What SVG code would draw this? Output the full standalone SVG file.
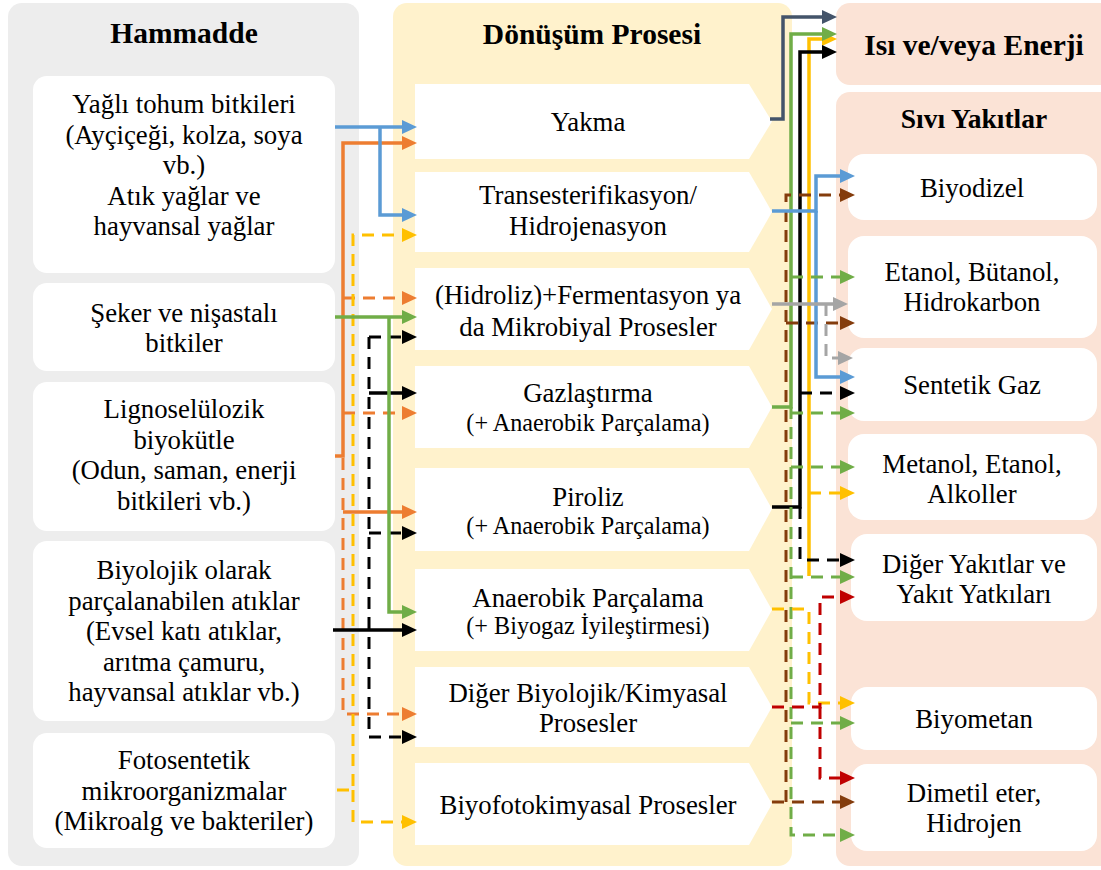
<svg xmlns="http://www.w3.org/2000/svg" width="1101" height="870" viewBox="0 0 1101 870">
<style>
.pl{fill:#EDEDED}.pm{fill:#FFF2CC}.pr{fill:#FBE3D6}.box{fill:#FFFFFF}
text{font-family:"Liberation Serif","Times New Roman",serif;font-size:26.8px;text-anchor:middle;fill:#000}
.s{font-size:24.2px}.h{font-weight:bold;font-size:29.5px}.h2{font-weight:bold;font-size:27.5px}
path.c{fill:none;stroke-width:3.5}
path.d{fill:none;stroke-width:3;stroke-dasharray:12 8}
.blue{stroke:#5B9BD5}.org{stroke:#ED7D31}.yel{stroke:#FFC000}.grn{stroke:#70AD47}.blk{stroke:#000}
.nav{stroke:#44546A}.gry{stroke:#A5A5A5}.brn{stroke:#843C0C}.red{stroke:#C00000}
</style>
<defs>
<marker id="ablue" markerUnits="userSpaceOnUse" markerWidth="16" markerHeight="14" refX="3" refY="7" orient="auto"><path d="M0,0L15,7L0,14z" fill="#5B9BD5"/></marker>
<marker id="aorg" markerUnits="userSpaceOnUse" markerWidth="16" markerHeight="14" refX="3" refY="7" orient="auto"><path d="M0,0L15,7L0,14z" fill="#ED7D31"/></marker>
<marker id="ayel" markerUnits="userSpaceOnUse" markerWidth="16" markerHeight="14" refX="3" refY="7" orient="auto"><path d="M0,0L15,7L0,14z" fill="#FFC000"/></marker>
<marker id="agrn" markerUnits="userSpaceOnUse" markerWidth="16" markerHeight="14" refX="3" refY="7" orient="auto"><path d="M0,0L15,7L0,14z" fill="#70AD47"/></marker>
<marker id="ablk" markerUnits="userSpaceOnUse" markerWidth="16" markerHeight="14" refX="3" refY="7" orient="auto"><path d="M0,0L15,7L0,14z" fill="#000000"/></marker>
<marker id="anav" markerUnits="userSpaceOnUse" markerWidth="16" markerHeight="14" refX="3" refY="7" orient="auto"><path d="M0,0L15,7L0,14z" fill="#44546A"/></marker>
<marker id="agry" markerUnits="userSpaceOnUse" markerWidth="16" markerHeight="14" refX="3" refY="7" orient="auto"><path d="M0,0L15,7L0,14z" fill="#A5A5A5"/></marker>
<marker id="abrn" markerUnits="userSpaceOnUse" markerWidth="16" markerHeight="14" refX="3" refY="7" orient="auto"><path d="M0,0L15,7L0,14z" fill="#843C0C"/></marker>
<marker id="ared" markerUnits="userSpaceOnUse" markerWidth="16" markerHeight="14" refX="3" refY="7" orient="auto"><path d="M0,0L15,7L0,14z" fill="#C00000"/></marker>
</defs>

<g id="panel-hammadde">
<rect class="pl" x="8" y="3" width="351" height="863" rx="14"/>
<text class="h" x="184" y="43">Hammadde</text>
</g>
<g id="panel-donusum">
<rect class="pm" x="393" y="3" width="399" height="863" rx="14"/>
<text class="h" x="592" y="44">Dönüşüm Prosesi</text>
</g>
<g id="panel-enerji">
<rect class="pr" x="836" y="3" width="285" height="82" rx="14"/>
<text class="h" x="974" y="55">Isı ve/veya Enerji</text>
</g>
<g id="panel-sivi">
<rect class="pr" x="836" y="92" width="285" height="774" rx="14"/>
<text class="h2" x="974" y="128">Sıvı Yakıtlar</text>
</g>

<g id="n-yagli">
<rect class="box" x="33" y="76" width="302" height="197" rx="14"/>
<text x="184" y="113">Yağlı tohum bitkileri</text>
<text x="184" y="144">(Ayçiçeği, kolza, soya</text>
<text x="184" y="174">vb.)</text>
<text x="184" y="205">Atık yağlar ve</text>
<text x="184" y="235">hayvansal yağlar</text>
</g>
<g id="n-seker">
<rect class="box" x="33" y="283" width="302" height="88" rx="14"/>
<text x="184" y="322">Şeker ve nişastalı</text>
<text x="184" y="352">bitkiler</text>
</g>
<g id="n-ligno">
<rect class="box" x="33" y="382" width="302" height="149" rx="14"/>
<text x="184" y="418">Lignoselülozik</text>
<text x="184" y="449">biyokütle</text>
<text x="184" y="479">(Odun, saman, enerji</text>
<text x="184" y="510">bitkileri vb.)</text>
</g>
<g id="n-biyolojik">
<rect class="box" x="33" y="541" width="302" height="180" rx="14"/>
<text x="184" y="579">Biyolojik olarak</text>
<text x="184" y="610">parçalanabilen atıklar</text>
<text x="184" y="640">(Evsel katı atıklar,</text>
<text x="184" y="671">arıtma çamuru,</text>
<text x="184" y="701">hayvansal atıklar vb.)</text>
</g>
<g id="n-foto">
<rect class="box" x="33" y="733" width="302" height="115" rx="14"/>
<text x="184" y="769">Fotosentetik</text>
<text x="184" y="800">mikroorganizmalar</text>
<text x="184" y="830">(Mikroalg ve bakteriler)</text>
</g>

<g id="p-yakma">
<path class="box" d="M415,84H749L772,121.5L749,159H415Z"/>
<text x="588" y="131">Yakma</text>
</g>
<g id="p-trans">
<path class="box" d="M415,172H749L772,212L749,252H415Z"/>
<text x="588" y="204">Transesterifikasyon/</text>
<text x="588" y="235">Hidrojenasyon</text>
</g>
<g id="p-hidroliz">
<path class="box" d="M415,268H749L772,309L749,350H415Z"/>
<text x="588" y="304">(Hidroliz)+Fermentasyon ya</text>
<text x="588" y="336">da Mikrobiyal Prosesler</text>
</g>
<g id="p-gaz">
<path class="box" d="M415,366H749L772,407L749,448H415Z"/>
<text x="588" y="402">Gazlaştırma</text>
<text class="s" x="588" y="431">(+ Anaerobik Parçalama)</text>
</g>
<g id="p-piroliz">
<path class="box" d="M415,468H749L772,509L749,551H415Z"/>
<text x="588" y="506">Piroliz</text>
<text class="s" x="588" y="534">(+ Anaerobik Parçalama)</text>
</g>
<g id="p-anaerobik">
<path class="box" d="M415,569H749L772,610L749,651H415Z"/>
<text x="588" y="607">Anaerobik Parçalama</text>
<text class="s" x="588" y="634">(+ Biyogaz İyileştirmesi)</text>
</g>
<g id="p-diger">
<path class="box" d="M415,667H749L772,707L749,747H415Z"/>
<text x="588" y="702">Diğer Biyolojik/Kimyasal</text>
<text x="588" y="732">Prosesler</text>
</g>
<g id="p-biyofoto">
<path class="box" d="M415,763H749L772,804L749,845H415Z"/>
<text x="588" y="814">Biyofotokimyasal Prosesler</text>
</g>

<g id="r-biyodizel">
<rect class="box" x="848" y="154" width="249" height="66" rx="16"/>
<text x="972" y="197">Biyodizel</text>
</g>
<g id="r-etanol">
<rect class="box" x="848" y="236" width="249" height="102" rx="16"/>
<text x="972" y="281">Etanol, Bütanol,</text>
<text x="972" y="311">Hidrokarbon</text>
</g>
<g id="r-sentetik">
<rect class="box" x="848" y="348" width="249" height="73" rx="16"/>
<text x="972" y="394">Sentetik Gaz</text>
</g>
<g id="r-metanol">
<rect class="box" x="848" y="434" width="249" height="86" rx="16"/>
<text x="972" y="473">Metanol, Etanol,</text>
<text x="972" y="503">Alkoller</text>
</g>
<g id="r-diger">
<rect class="box" x="851" y="534" width="246" height="87" rx="16"/>
<text x="974" y="573">Diğer Yakıtlar ve</text>
<text x="974" y="603">Yakıt Yatkıları</text>
</g>
<g id="r-biyometan">
<rect class="box" x="851" y="687" width="246" height="63" rx="16"/>
<text x="974" y="728">Biyometan</text>
</g>
<g id="r-dimetil">
<rect class="box" x="851" y="764" width="246" height="87" rx="16"/>
<text x="974" y="802">Dimetil eter,</text>
<text x="974" y="832">Hidrojen</text>
</g>

<g id="connectors">
<path class="d org" d="M343,458V714H405" marker-end="url(#aorg)"/>
<path class="d org" d="M343,298H405" marker-end="url(#aorg)"/>
<path class="d org" d="M343,413H405" marker-end="url(#aorg)"/>
<path class="c org" d="M335,456H343V143H405" marker-end="url(#aorg)"/>
<path class="c org" d="M343,512H405" marker-end="url(#aorg)"/>
<path class="d yel" d="M337,790H353V235H405" marker-end="url(#ayel)"/>
<path class="d yel" d="M353,790V822H405" marker-end="url(#ayel)"/>
<path class="c blue" d="M335,127H405" marker-end="url(#ablue)"/>
<path class="c blue" d="M380,127V215H405" marker-end="url(#ablue)"/>
<path class="d blk" d="M369,337V737H405" marker-end="url(#ablk)"/>
<path class="d blk" d="M369,337H405" marker-end="url(#ablk)"/>
<path class="d blk" d="M369,533H405" marker-end="url(#ablk)"/>
<path class="c blk" d="M369,393H405" marker-end="url(#ablk)"/>
<path class="c blk" d="M333,630H405" marker-end="url(#ablk)"/>
<path class="c grn" d="M335,317H405" marker-end="url(#agrn)"/>
<path class="c grn" d="M389,317V612H405" marker-end="url(#agrn)"/>
<path class="c nav" d="M770,119H783V17H825" marker-end="url(#anav)"/>
<path class="c yel" d="M809,576V39H825" marker-end="url(#ayel)"/>
<path class="c grn" d="M772,407H791V34H825" marker-end="url(#agrn)"/>
<path class="c blk" d="M772,507H800V52H825" marker-end="url(#ablk)"/>
<path class="d brn" d="M772,802H843" marker-end="url(#abrn)"/>
<path class="d brn" d="M786,802V195H843" marker-end="url(#abrn)"/>
<path class="d brn" d="M786,323H843" marker-end="url(#abrn)"/>
<path class="c blue" d="M772,211H816V176H843" marker-end="url(#ablue)"/>
<path class="c blue" d="M816,211V377H843" marker-end="url(#ablue)"/>
<path class="c gry" d="M772,304H836" marker-end="url(#agry)"/>
<path class="d gry" d="M826,304V358H841" marker-end="url(#agry)"/>
<path class="d grn" d="M791,407V835H843" marker-end="url(#agrn)"/>
<path class="d grn" d="M791,277H843" marker-end="url(#agrn)"/>
<path class="d grn" d="M791,413H843" marker-end="url(#agrn)"/>
<path class="d grn" d="M791,467H843" marker-end="url(#agrn)"/>
<path class="d grn" d="M791,577H843" marker-end="url(#agrn)"/>
<path class="d grn" d="M791,723H843" marker-end="url(#agrn)"/>
<path class="d blk" d="M800,393H843" marker-end="url(#ablk)"/>
<path class="d blk" d="M800,507V560H843" marker-end="url(#ablk)"/>
<path class="d yel" d="M809,493H843" marker-end="url(#ayel)"/>
<path class="d yel" d="M772,609H809V703H843" marker-end="url(#ayel)"/>
<path class="d red" d="M772,707H820V597H843" marker-end="url(#ared)"/>
<path class="d red" d="M820,707V778H843" marker-end="url(#ared)"/>
</g>
</svg>
